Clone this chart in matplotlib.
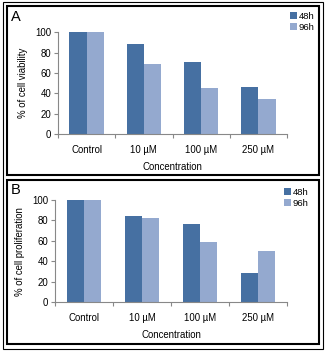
import matplotlib
matplotlib.use("Agg")
import matplotlib.pyplot as plt
from matplotlib.patches import Rectangle
import numpy as np

plt.rcParams["font.family"] = ["Liberation Sans", "DejaVu Sans"]

categories = ["Control", "10 µM", "100 µM", "250 µM"]
series_names = ["48h", "96h"]
viability_48h = [100, 88.5, 70.8, 46.0]
viability_96h = [100, 68.9, 45.2, 34.4]
prolif_48h = [100, 84.4, 76.5, 28.7]
prolif_96h = [100, 82.5, 59.3, 49.8]

DARK = "#4670a2"
LIGHT = "#94a9cf"
AXIS = "#888888"
W, H = 328, 355

fig = plt.figure(figsize=(W / 100, H / 100), dpi=100)


def px(x0, y0, x1, y1):
    # pixel box (top-left origin) -> figure fraction rect
    return [x0 / W, 1 - y1 / H, (x1 - x0) / W, (y1 - y0) / H]


def panel(rect, s48, s96, ylabel, letter, letter_xy, leg_xy):
    ax = fig.add_axes(rect)
    x = np.arange(len(categories))
    w = 0.3
    ax.bar(x - w / 2, s48, w, color=DARK, label=series_names[0])
    ax.bar(x + w / 2, s96, w, color=LIGHT, label=series_names[1])
    ax.set_xlim(-0.5, len(categories) - 0.5)
    ax.set_ylim(0, 100)
    ax.set_yticks(range(0, 101, 20))
    ax.set_xticks(x)
    ax.set_xticklabels(categories)
    ax.set_xticks(np.arange(-0.5, len(categories), 1.0), minor=True)
    ax.tick_params(axis="x", which="major", length=0, pad=8, labelsize=6.9)
    ax.tick_params(axis="x", which="minor", length=3, color=AXIS, width=0.8)
    ax.tick_params(axis="y", length=3, color=AXIS, width=0.8, labelsize=6.9, pad=2)
    for s in ("top", "right"):
        ax.spines[s].set_visible(False)
    for s in ("left", "bottom"):
        ax.spines[s].set_color(AXIS)
        ax.spines[s].set_linewidth(0.8)
    ax.set_xlabel("Concentration", fontsize=6.9, labelpad=5)
    ax.set_ylabel(ylabel, fontsize=6.9, labelpad=5)
    fig.text(letter_xy[0] / W, 1 - letter_xy[1] / H, letter, fontsize=10.5,
             ha="left", va="center")
    ax.legend(loc="upper left", bbox_to_anchor=(leg_xy[0] / W, 1 - leg_xy[1] / H),
              bbox_transform=fig.transFigure, frameon=False, fontsize=6.8,
              handlelength=0.7, handleheight=0.7, handletextpad=0.2,
              labelspacing=0.2, borderpad=0, borderaxespad=0)
    return ax


panel(px(58, 32.3, 287, 134), viability_48h, viability_96h,
      "% of cell viability", "A", (11, 17), (290, 12))
panel(px(55, 200, 287, 302.3), prolif_48h, prolif_96h,
      "% of cell proliferation", "B", (11, 190), (284, 188))

# frames: one thin outer box, a heavier box around each panel
def box(x0, y0, x1, y1, lw):
    fig.add_artist(Rectangle((x0 / W, 1 - y1 / H), (x1 - x0) / W, (y1 - y0) / H,
                             transform=fig.transFigure, fill=False,
                             edgecolor="black", linewidth=lw))

box(3, 2, 323, 349, 0.8)
box(7, 6, 319, 175, 1.5)
box(7, 180, 319, 344, 1.5)

fig.savefig("out.png", dpi=100, facecolor="white")
